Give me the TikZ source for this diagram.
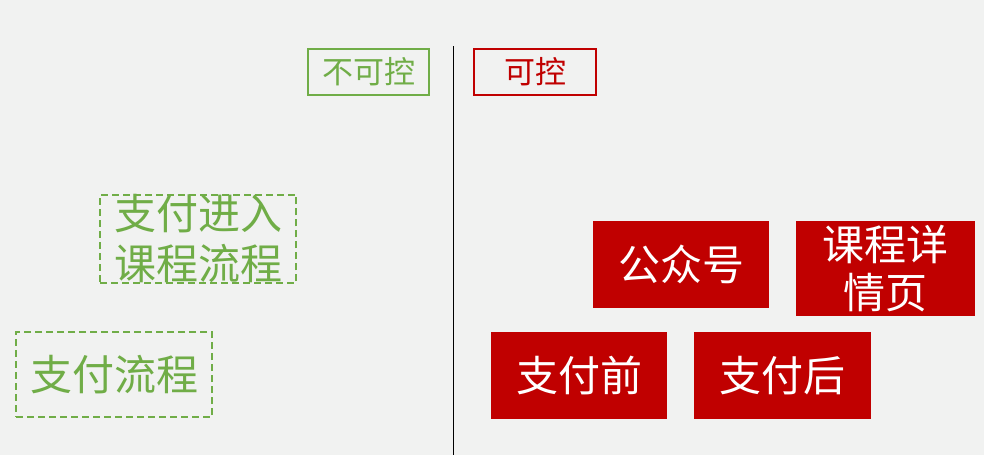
\documentclass[tikz,border=0pt]{standalone}
\usepackage{fontspec}
\newfontfamily\cjk{Noto Sans CJK SC}
\definecolor{bg}{RGB}{241,242,241}
\definecolor{grn}{RGB}{112,173,71}
\definecolor{rd}{RGB}{192,0,0}
\tikzset{
  lbl/.style={draw, line width=2pt, inner sep=0pt, font=\cjk\fontsize{31}{36}\selectfont},
  dbox/.style={draw=grn, text=grn, line width=2.2pt, dash pattern=on 7pt off 4pt, inner sep=0pt, align=center, font=\cjk\fontsize{42}{50}\selectfont},
  rbox/.style={fill=rd, text=white, inner sep=0pt, align=center, font=\cjk\fontsize{42}{48}\selectfont}
}
\begin{document}
\begin{tikzpicture}[x=1pt,y=-1pt]
\useasboundingbox (0,0) rectangle (984,455);
\fill[bg] (0,0) rectangle (984,455);
\coordinate (ltop) at (453.5,46);
\coordinate (lbot) at (453.5,455);
\draw[line width=1pt, black] (ltop) -- (lbot);
\node[lbl, draw=grn, text=grn, minimum width=121pt, minimum height=46pt] (nc) at (368.5,72) {不可控};
\node[lbl, draw=rd, text=rd, minimum width=122pt, minimum height=46pt] (kc) at (535,72) {可控};
\node[dbox, minimum width=196pt, minimum height=86pt] (zfjr) at (198,239) {支付进入\\课程流程};
\node[dbox, minimum width=196pt, minimum height=85pt] (zflc) at (114,374.5) {支付流程};
\node[rbox, minimum width=176pt, minimum height=87pt] (gzh) at (681,264.5) {公众号};
\node[rbox, minimum width=179pt, minimum height=95pt] (kcxq) at (885.5,268.5) {课程详\\情页};
\node[rbox, minimum width=176pt, minimum height=87pt] (zfq) at (579,375.5) {支付前};
\node[rbox, minimum width=177pt, minimum height=87pt] (zfh) at (782.5,375.5) {支付后};
\end{tikzpicture}
\end{document}
